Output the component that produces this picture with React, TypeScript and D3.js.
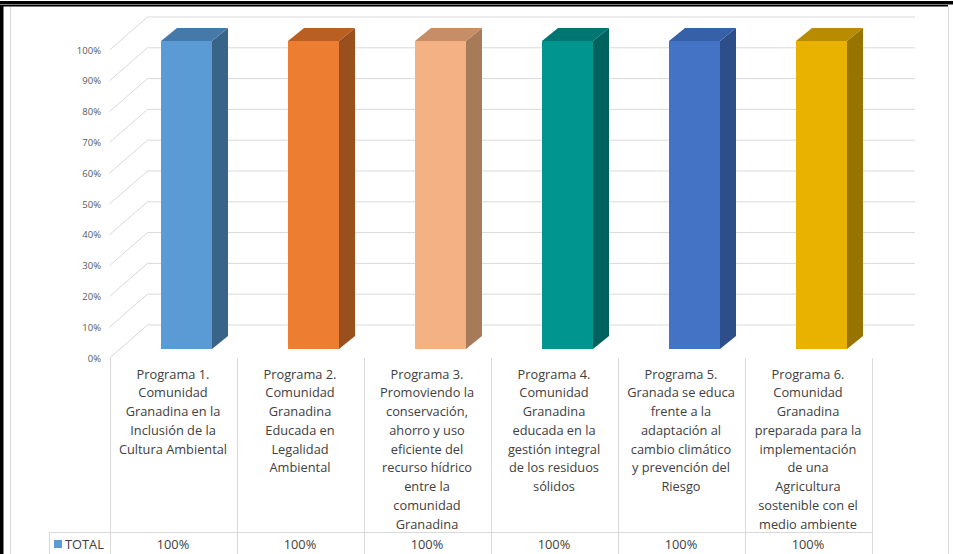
import * as d3 from 'd3';
import { useEffect, useRef } from "react";

const programas = ['p1', 'p2', 'p3', 'p4', 'p5', 'p6'];

const categoryLines = [
    ['Programa 1.', 'Comunidad', 'Granadina en la', 'Inclusión de la', 'Cultura Ambiental'],
    ['Programa 2.', 'Comunidad', 'Granadina', 'Educada en', 'Legalidad', 'Ambiental'],
    ['Programa 3.', 'Promoviendo la', 'conservación,', 'ahorro y uso', 'eficiente del', 'recurso hídrico', 'entre la', 'comunidad', 'Granadina'],
    ['Programa 4.', 'Comunidad', 'Granadina', 'educada en la', 'gestión integral', 'de los residuos', 'sólidos'],
    ['Programa 5.', 'Granada se educa', 'frente a la', 'adaptación al', 'cambio climático', 'y prevención del', 'Riesgo'],
    ['Programa 6.', 'Comunidad', 'Granadina', 'preparada para la', 'implementación', 'de una', 'Agricultura', 'sostenible con el', 'medio ambiente'],
];

const totals = [1, 1, 1, 1, 1, 1];

const yTicks = [0, 0.1, 0.2, 0.3, 0.4, 0.5, 0.6, 0.7, 0.8, 0.9, 1];

const seriesName = 'TOTAL';

// front / top / side colours per bar
const barColors = [
    { front: '#5B9BD5', top: '#4479AA', side: '#38648A' },
    { front: '#ED7D31', top: '#BA5F22', side: '#9A4F1E' },
    { front: '#F4B183', top: '#C68D66', side: '#A77A5A' },
    { front: '#00968F', top: '#007672', side: '#00625E' },
    { front: '#4472C4', top: '#3660A8', side: '#2D4E88' },
    { front: '#EAB200', top: '#B88C00', side: '#977300' },
];

const W = 953;
const H = 554;
const FONT = '"Open Sans", "Liberation Sans", Arial, sans-serif';
const WALL_DX = 38;   // left wall depth
const WALL_DY = -33;
const BAR_DX = 16;    // bar depth
const BAR_DY = -13;
const BAR_W = 51;

export default function App() {
    const ref = useRef(null);
    useEffect(() => {
        if (!ref.current) return;
        const svg = d3.select(ref.current);
        svg.selectAll("*").remove();

        svg.append('rect').attr('width', W).attr('height', H).attr('fill', 'white');

        const x = d3.scaleBand<string>().domain(programas).range([109.5, 871.5]);
        const y = d3.scaleLinear().domain([0, 1]).range([358, 50]);
        const fmt = d3.format('.0%');

        // frame
        svg.append('rect').attr('x', 0).attr('y', 1).attr('width', W).attr('height', 3.5).attr('fill', '#000');
        svg.append('rect').attr('x', 0).attr('y', 5).attr('width', 948).attr('height', 1.5).attr('fill', '#000');
        svg.append('rect').attr('x', 0).attr('y', 5).attr('width', 3.5).attr('height', H).attr('fill', '#000');
        svg.append('line').attr('x1', 10.5).attr('x2', 10.5).attr('y1', 7).attr('y2', H).attr('stroke', '#D9D9D9');
        svg.append('line').attr('x1', 948.5).attr('x2', 948.5).attr('y1', 7).attr('y2', H).attr('stroke', '#D9D9D9');

        // gridlines: left wall diagonals + back wall horizontals
        const grid = svg.append('g').attr('stroke', '#D9D9D9').attr('stroke-width', 1).attr('fill', 'none');
        grid.selectAll('path')
            .data(yTicks)
            .enter()
            .append('path')
            .attr('d', d => `M${x.range()[0]},${y(d)}L${x.range()[0] + WALL_DX},${y(d) + WALL_DY}L915,${y(d) + WALL_DY}`);

        // y labels
        svg.append('g')
            .selectAll('text')
            .data(yTicks)
            .enter()
            .append('text')
            .attr('x', 101)
            .attr('y', d => y(d) + 1)
            .attr('text-anchor', 'end')
            .attr('dominant-baseline', 'middle')
            .attr('font-family', FONT)
            .attr('font-size', 9.5)
            .attr('fill', '#595959')
            .text(d => fmt(d));

        // bars
        const bars = svg.append('g')
            .selectAll('g')
            .data(totals)
            .enter()
            .append('g');

        const bx = (i: number) => (x(programas[i]) as number) + 51.5;
        const by0 = y(0) - 9;
        const by = (v: number) => y(v) - 9;

        bars.append('rect')
            .attr('x', (_, i) => bx(i))
            .attr('y', d => by(d))
            .attr('width', BAR_W)
            .attr('height', d => by0 - by(d))
            .attr('fill', (_, i) => barColors[i].front);

        bars.append('path')
            .attr('d', (d, i) => {
                const x1 = bx(i) + BAR_W;
                return `M${x1},${by(d)}L${x1 + BAR_DX},${by(d) + BAR_DY}L${x1 + BAR_DX},${by0 + BAR_DY}L${x1},${by0}Z`;
            })
            .attr('fill', (_, i) => barColors[i].side);

        bars.append('path')
            .attr('d', (d, i) => {
                const x0 = bx(i);
                return `M${x0},${by(d)}L${x0 + BAR_DX},${by(d) + BAR_DY}L${x0 + BAR_W + BAR_DX},${by(d) + BAR_DY}L${x0 + BAR_W},${by(d)}Z`;
            })
            .attr('fill', (_, i) => barColors[i].top);

        // data table
        const table = svg.append('g').attr('stroke', '#D9D9D9').attr('stroke-width', 1);
        const bounds = [...programas.map(p => x(p) as number), x.range()[1]];
        table.selectAll('line.v')
            .data(bounds)
            .enter()
            .append('line')
            .attr('class', 'v')
            .attr('x1', d => Math.round(d) + 0.5)
            .attr('x2', d => Math.round(d) + 0.5)
            .attr('y1', 358)
            .attr('y2', H);
        table.append('line').attr('x1', 49.5).attr('x2', x.range()[1]).attr('y1', 532.5).attr('y2', 532.5);
        table.append('line').attr('x1', 49.5).attr('x2', 49.5).attr('y1', 532.5).attr('y2', H);

        const cats = svg.append('g')
            .selectAll('text')
            .data(categoryLines)
            .enter()
            .append('text')
            .attr('text-anchor', 'middle')
            .attr('font-family', FONT)
            .attr('font-size', 12.8)
            .attr('fill', '#404040');

        cats.selectAll('tspan')
            .data((d, i) => d.map(line => ({ line, i })))
            .enter()
            .append('tspan')
            .attr('x', d => (x(programas[d.i]) as number) + x.bandwidth() / 2)
            .attr('y', (_, j) => 378.5 + j * 18.75)
            .text(d => d.line);

        svg.append('g')
            .selectAll('text')
            .data(totals)
            .enter()
            .append('text')
            .attr('x', (_, i) => (x(programas[i]) as number) + x.bandwidth() / 2)
            .attr('y', 549)
            .attr('text-anchor', 'middle')
            .attr('font-family', FONT)
            .attr('font-size', 12.8)
            .attr('fill', '#404040')
            .text(d => fmt(d));

        svg.append('rect').attr('x', 54).attr('y', 540).attr('width', 8).attr('height', 8).attr('fill', barColors[0].front);
        svg.append('text')
            .attr('x', 65)
            .attr('y', 549)
            .attr('font-family', FONT)
            .attr('font-size', 12.8)
            .attr('fill', '#404040')
            .text(seriesName);
    }, []);

    return (
        <svg ref={ref} width={W} height={H} style={{ position: 'absolute', left: 0, top: 0 }}></svg>
    );
}
